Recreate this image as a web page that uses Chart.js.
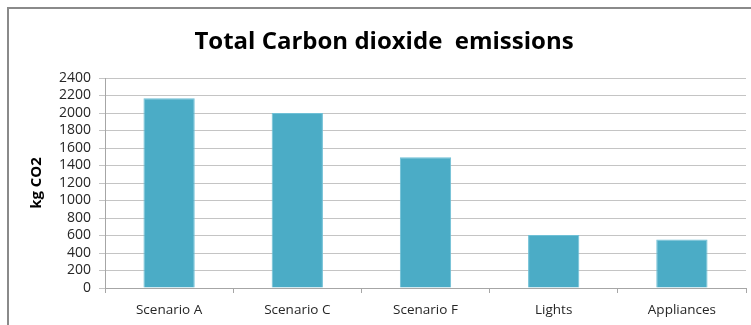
<!DOCTYPE html>
<html>
<head>
<meta charset="utf-8">
<script src="https://cdn.jsdelivr.net/npm/chart.js@4/dist/chart.umd.min.js"></script>
<style>
  html, body { margin: 0; padding: 0; background: #ffffff; }
  #wrap { width: 751px; height: 325px; position: relative; }
</style>
</head>
<body>
<div id="wrap"><canvas id="c" width="751" height="325"></canvas></div>
<script>
// Emissions per option, kg CO2
const categories = ['Scenario A', 'Scenario C', 'Scenario F', 'Lights', 'Appliances'];
const emissions = [2170, 2000, 1495, 605, 555];
const yTicks = [0, 200, 400, 600, 800, 1000, 1200, 1400, 1600, 1800, 2000, 2200, 2400];

const FONT = '"Open Sans", "Liberation Sans", sans-serif';

// Frame drawn along the top and left edges of the canvas
const framePlugin = {
  id: 'frame',
  beforeDraw(chart) {
    const ctx = chart.ctx;
    ctx.save();
    ctx.fillStyle = '#ffffff';
    ctx.fillRect(0, 0, chart.width, chart.height);
    ctx.strokeStyle = '#8a8a8a';
    ctx.lineWidth = 2;
    ctx.beginPath();
    ctx.moveTo(8, chart.height);
    ctx.lineTo(8, 8);
    ctx.lineTo(chart.width, 8);
    ctx.stroke();
    ctx.restore();
  }
};

new Chart(document.getElementById('c'), {
  type: 'bar',
  data: {
    labels: categories,
    datasets: [{
      data: emissions,
      backgroundColor: '#4BACC6',
      borderColor: '#6fc0d6',
      borderWidth: 1,
      barPercentage: 0.4,
      categoryPercentage: 1.0
    }]
  },
  options: {
    responsive: false,
    animation: false,
    layout: { padding: { left: 22, right: 5, top: 0, bottom: 0 } },
    plugins: {
      legend: { display: false },
      tooltip: { enabled: false },
      title: {
        display: true,
        text: 'Total Carbon dioxide  emissions',
        color: '#000000',
        font: { family: FONT, size: 24, weight: 'bold' },
        padding: { top: 27.6, bottom: 21.6 }
      }
    },
    scales: {
      x: {
        grid: {
          display: true,
          drawOnChartArea: false,
          drawTicks: true,
          tickLength: 5,
          color: '#a6a6a6'
        },
        border: { display: true, color: '#a6a6a6', width: 1 },
        ticks: {
          color: '#262626',
          font: { family: FONT, size: 13.5 },
          padding: 9,
          maxRotation: 0
        },
        afterFit(scale) { scale.height = 37; }
      },
      y: {
        min: 0,
        max: 2400,
        afterBuildTicks(scale) {
          scale.ticks = yTicks.map(v => ({ value: v }));
        },
        grid: {
          color: '#c4c4c4',
          lineWidth: 1,
          drawTicks: true,
          tickLength: 6
        },
        border: { display: true, color: '#a6a6a6', width: 1 },
        ticks: {
          color: '#262626',
          font: { family: FONT, size: 14 },
          padding: 8,
          autoSkip: false,
          callback: v => String(v)
        },
        title: {
          display: true,
          text: 'kg CO2',
          color: '#000000',
          font: { family: FONT, size: 15, weight: 'bold' },
          padding: { top: 6, bottom: 0 }
        },
        afterFit(scale) { scale.width = 83; }
      }
    }
  },
  plugins: [framePlugin]
});
</script>
</body>
</html>
